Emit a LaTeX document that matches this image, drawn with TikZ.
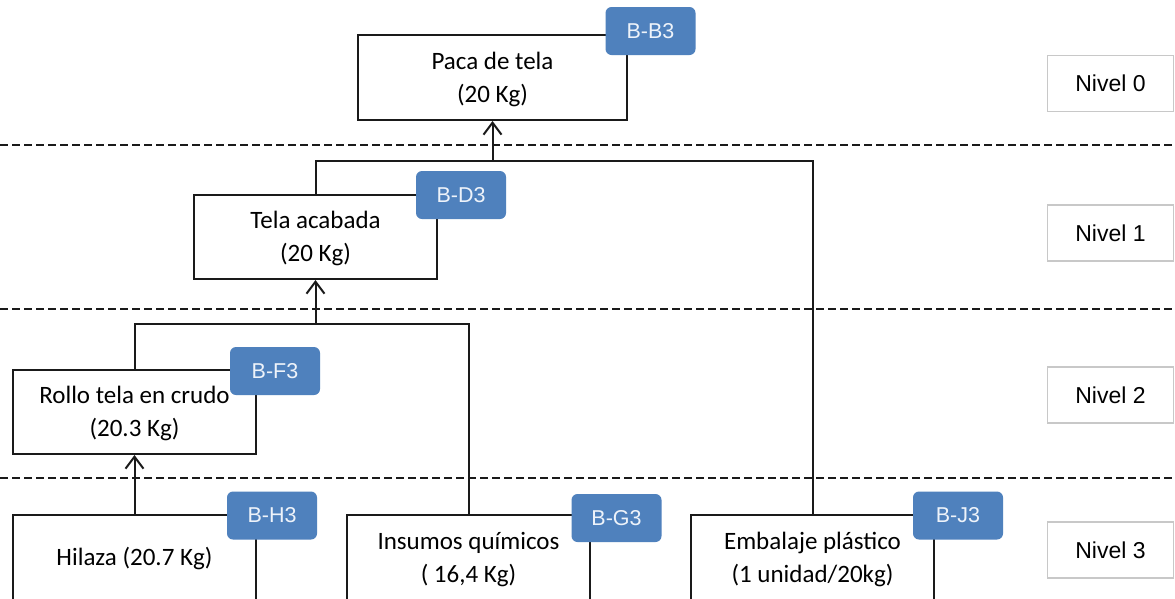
\documentclass[tikz,border=0pt]{standalone}
\usepackage{fontspec}
\setmainfont{Carlito}
\newfontfamily\arialf{Liberation Sans}
\usetikzlibrary{arrows.meta}
\definecolor{badgeblue}{HTML}{4F81BD}
\definecolor{badgetext}{HTML}{EEF3FA}
\definecolor{nivelgray}{HTML}{C8C8C8}
\definecolor{linedark}{HTML}{1A1A1A}
\tikzset{
  itembox/.style={draw=linedark, line width=2pt, fill=white, minimum width=243pt,
    minimum height=84pt, inner sep=0pt, align=center,
    font=\fontsize{25}{33}\selectfont},
  badge/.style={fill=badgeblue, rounded corners=6pt, minimum width=90pt,
    minimum height=48pt, inner sep=0pt, text=badgetext,
    font=\arialf\fontsize{21.5}{24}\selectfont},
  nivelbox/.style={draw=nivelgray, line width=1.5pt, fill=white, minimum width=126pt,
    minimum height=56pt, inner sep=0pt, font=\arialf\fontsize{23}{26}\selectfont},
  levelsep/.style={draw=linedark, line width=1.5pt, dash pattern=on 8pt off 4pt},
  conn/.style={draw=linedark, line width=2pt},
  arr/.style={conn, -{Straight Barb[length=12pt, width=18pt, line width=2pt]}}
}
\begin{document}
\begin{tikzpicture}[x=1pt, y=-1pt]
  \clip (0,0) rectangle (1175,598);
  \fill[white] (0,0) rectangle (1175,598);

  % separators between levels
  \draw[levelsep] (0,145) -- (1175,145);
  \draw[levelsep] (0,309) -- (1175,309);
  \draw[levelsep] (0,478) -- (1175,478);

  % level 0
  \node[itembox, minimum width=269pt, minimum height=85pt] (paca) at (492.5,77.5) {\rule{0pt}{21pt}Paca de tela\\(20 Kg)};
  % level 1
  \node[itembox] (tela) at (315.5,237) {\rule{0pt}{21pt}Tela acabada\\(20 Kg)};
  % level 2
  \node[itembox] (rollo) at (134.5,412) {\rule{0pt}{21pt}Rollo tela en crudo\\(20.3 Kg)};
  % level 3
  \node[itembox, minimum height=86pt] (hil) at (134.5,558) {Hilaza (20.7 Kg)};
  \node[itembox, minimum height=86pt] (ins) at (468.5,558) {\rule{0pt}{21pt}Insumos químicos\\( 16,4 Kg)};
  \node[itembox, minimum height=86pt] (emb) at (812.5,558) {\rule{0pt}{21pt}Embalaje plástico\\(1 unidad/20kg)};

  % connectors
  \coordinate (j0) at (paca.south |- 0,161);
  \coordinate (j1) at (tela.south |- 0,324);
  \draw[conn] (tela.north) |- (j0) -| (emb.north);
  \draw[arr] (j0) -- (paca.south);
  \draw[conn] (rollo.north) |- (j1) -| (ins.north);
  \draw[arr] (j1) -- (tela.south);
  \draw[arr] (hil.north) -- (rollo.south);

  % item codes
  \node[badge] (bB3) at (650.5,31) {B-B3};
  \node[badge] (bD3) at (461,195) {B-D3};
  \node[badge] (bF3) at (275,371) {B-F3};
  \node[badge] (bH3) at (272,515.5) {B-H3};
  \node[badge] (bG3) at (616.5,518) {B-G3};
  \node[badge] (bJ3) at (958,515.5) {B-J3};

  % level labels
  \node[nivelbox] (n0) at (1110.5,83.5) {Nivel 0};
  \node[nivelbox] (n1) at (1110.5,233) {Nivel 1};
  \node[nivelbox] (n2) at (1110.5,395) {Nivel 2};
  \node[nivelbox] (n3) at (1110.5,550) {Nivel 3};
\end{tikzpicture}
\end{document}
